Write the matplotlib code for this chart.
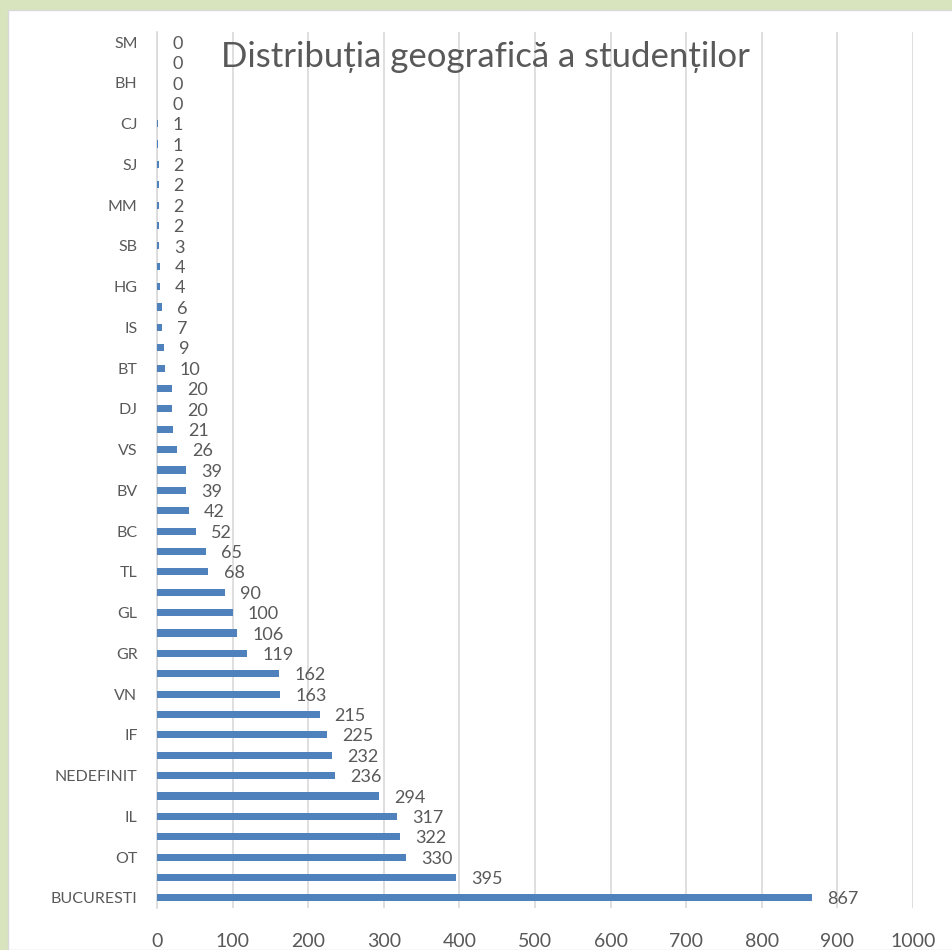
import matplotlib.pyplot as plt
from matplotlib.patches import Rectangle

plt.rcParams['font.family'] = ['Lato', 'DejaVu Sans']

# bottom to top
values = [867, 395, 330, 322, 317, 294, 236, 232, 225, 215, 163, 162, 119, 106,
          100, 90, 68, 65, 52, 42, 39, 39, 26, 21, 20, 20, 10, 9, 7, 6, 4, 4,
          3, 2, 2, 2, 2, 1, 1, 0, 0, 0, 0]
tick_names = ["BUCURESTI", "OT", "IL", "NEDEFINIT", "IF", "VN", "GR", "GL", "TL",
              "BC", "BV", "VS", "DJ", "BT", "IS", "HG", "SB", "MM", "SJ", "CJ",
              "BH", "SM"]
title = "Distribuția geografică a studenților"

text_col = "#595959"
bar_col = "#4f81bd"
grid_col = "#d9d9d9"

fig = plt.figure(figsize=(9.52, 9.50), dpi=100)
fig.patch.set_facecolor("#d7e4bd")
# white chart area inside the green frame
fig.patches.append(Rectangle((8 / 952, 0), 1, 1 - 10 / 950, transform=fig.transFigure,
                             facecolor="white", edgecolor="#d9d9d9", linewidth=1.0, zorder=-5))

ax = fig.add_axes([157 / 952, 1 - 908 / 950, (913 - 157) / 952, (908 - 32) / 950])
ax.set_facecolor("none")
ax.set_zorder(2)

ypos = list(range(len(values)))
ax.barh(ypos, values, height=0.35, color=bar_col, zorder=3)
for y, v in zip(ypos, values):
    ax.text(v + 20, y - 0.08, str(v), va="center", ha="left", fontsize=13, color=text_col)

ax.set_xlim(0, 1000)
ax.set_ylim(-0.5, len(values) - 0.5)
ax.set_xticks(range(0, 1001, 100))
ax.set_yticks(ypos[::2])
ax.set_yticklabels(tick_names)
ax.tick_params(axis="both", length=0, labelcolor=text_col)
ax.tick_params(axis="x", pad=18, labelsize=14)
ax.tick_params(axis="y", pad=14, labelsize=11.5)
ax.grid(axis="x", color=grid_col, linewidth=1.2, zorder=0)
for s in ["top", "right", "bottom"]:
    ax.spines[s].set_visible(False)
ax.spines["left"].set_color(grid_col)
ax.spines["left"].set_linewidth(1.2)

fig.text(485 / 952, 1 - 57 / 950, title, ha="center", va="center", fontsize=25,
         color=text_col, zorder=5)

fig.savefig("out.png", dpi=100, facecolor=fig.get_facecolor())
